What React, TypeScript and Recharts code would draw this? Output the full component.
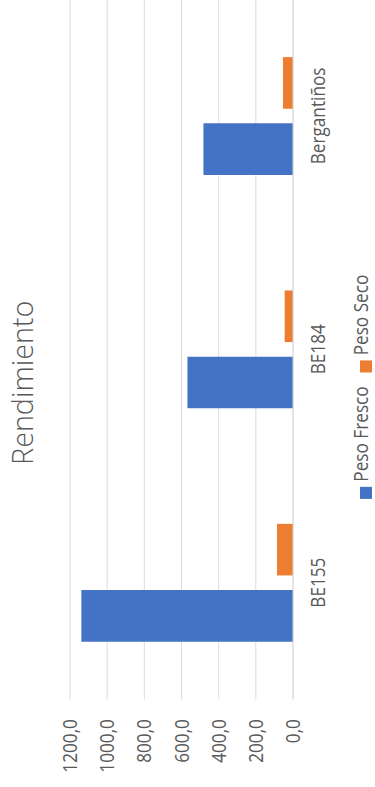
import React from "react";
import { Bar, BarChart, CartesianGrid, XAxis, YAxis } from "recharts";

const varieties = ["BE155", "BE184", "Bergantiños"];
const pesoFresco = [1139, 568, 482];
const pesoSeco = [86, 45, 54];
const valueTicks = [0, 200, 400, 600, 800, 1000, 1200];

const BLUE = "#4472C4";
const ORANGE = "#ED7D31";
const TEXT = "#595959";
const GRID = "#D9D9D9";
const FONT = "'Open Sans', sans-serif";

const rows = varieties.map((name, i) => ({
  name,
  fresco: pesoFresco[i],
  seco: pesoSeco[i],
}));

// chart is laid out landscape, then turned a quarter turn and squeezed a little
const CHART_W = 916;
const CHART_H = 375;

const fmt = (v: number) => v.toFixed(1).replace(".", ",");

function LegendItem({ color, label }: { color: string; label: string }) {
  return (
    <div style={{ display: "flex", alignItems: "center", marginRight: 16 }}>
      <span
        style={{
          position: "relative",
          top: 5,
          width: 14,
          height: 12,
          background: color,
          marginRight: 6,
        }}
      />
      <span>{label}</span>
    </div>
  );
}

export default function App() {
  return (
    <div
      style={{
        position: "fixed",
        left: 0,
        top: 0,
        width: 375,
        height: 787,
        overflow: "hidden",
        background: "#fff",
      }}
    >
      <div
        style={{
          position: "absolute",
          left: 0,
          top: 0,
          width: CHART_W,
          height: CHART_H,
          transformOrigin: "0 0",
          transform: "translateY(787px) rotate(-90deg) scale(0.86, 1)",
          fontFamily: FONT,
          color: TEXT,
        }}
      >
        <div
          style={{
            position: "absolute",
            left: 470,
            top: 2,
            transform: "translateX(-50%) scaleX(1.15)",
            fontSize: 29,
            fontWeight: 350,
            lineHeight: "normal",
            whiteSpace: "nowrap",
          }}
        >
          Rendimiento
        </div>
        <BarChart
          width={CHART_W}
          height={CHART_H}
          data={rows}
          margin={{ top: 70, right: 0, bottom: 52, left: 0 }}
          barSize={60}
          barGap={17}
        >
          <CartesianGrid vertical={false} stroke={GRID} />
          <XAxis
            dataKey="name"
            height={30}
            tickLine={false}
            axisLine={{ stroke: GRID }}
            tickMargin={12}
            tick={{ fontSize: 20, fill: TEXT, fontFamily: FONT }}
          />
          <YAxis
            width={102}
            domain={[0, 1200]}
            ticks={valueTicks}
            tickFormatter={fmt}
            axisLine={false}
            tickLine={false}
            tickMargin={17}
            tick={{ fontSize: 20, fill: TEXT, fontFamily: FONT }}
          />
          <Bar dataKey="fresco" name="Peso Fresco" fill={BLUE} isAnimationActive={false} />
          <Bar dataKey="seco" name="Peso Seco" fill={ORANGE} isAnimationActive={false} />
        </BarChart>
        <div
          style={{
            position: "absolute",
            left: 335,
            top: 351,
            display: "flex",
            alignItems: "center",
            fontSize: 20,
            lineHeight: "20px",
            whiteSpace: "nowrap",
          }}
        >
          <LegendItem color={BLUE} label="Peso Fresco" />
          <LegendItem color={ORANGE} label="Peso Seco" />
        </div>
      </div>
    </div>
  );
}
